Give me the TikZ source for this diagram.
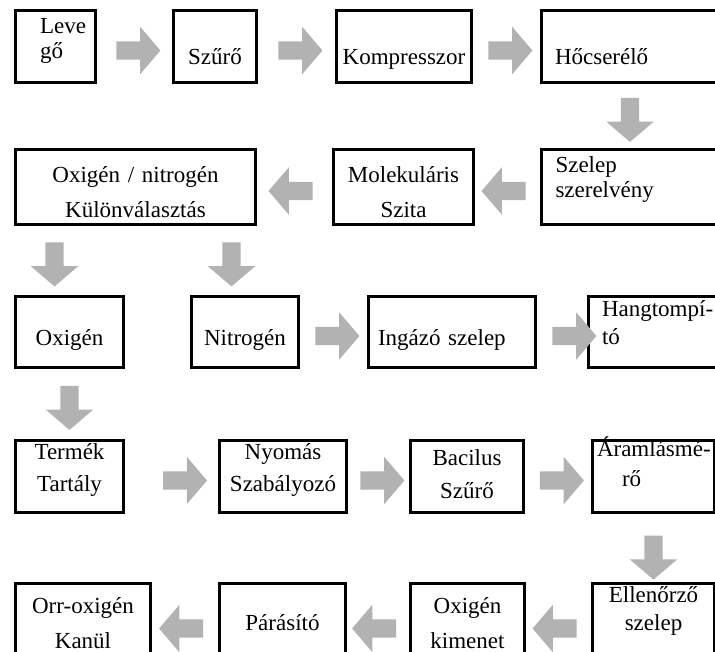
\documentclass[tikz,border=0pt]{standalone}
\usepackage{fontspec}
\setmainfont{Liberation Serif}
\usetikzlibrary{positioning}
\usetikzlibrary{shapes.arrows}

\begin{document}
\begin{tikzpicture}[x=1pt, y=-1pt, box/.style={draw, line width=2.8pt, inner sep=0pt, outer sep=0pt, align=center, font=\fontsize{23pt}{33pt}\selectfont}, lines/.style={font=\fontsize{23pt}{#1}\selectfont}, base/.style 2 args={text height=#1, text depth=#2}, flow/.style={single arrow, fill=gray!60, minimum height=44pt, inner sep=9pt, single arrow head extend=14.5pt, single arrow tip angle=99, single arrow head indent=0pt, outer sep=0pt}, rarr/.style={flow, yshift=-4pt}, larr/.style={flow, shape border rotate=180, yshift=-4pt}, darr/.style={flow, shape border rotate=270}]
	\useasboundingbox (0,0) rectangle (715,652);

	% nodes
	\node[box, minimum width=80pt, text width=31pt, align=left, base={23.5pt}{48.5pt}, lines=25pt] (lev) at (55.5,46.5) {Leve\\gő};
	\node[box, right=78pt of lev, text width=83pt, base={54.5pt}{17.5pt}] (szu) {Szűrő};
	\node[box, right=80pt of szu, text width=135pt, base={54.5pt}{17.5pt}] (kom) {Kompresszor};
	\node[box, right=70pt of kom, minimum width=177pt, text width=150pt, align=left, base={54.5pt}{17.5pt}] (hoc) {Hőcserélő};

	\node[box, below=67pt of hoc, minimum width=177pt, text width=149pt, align=left, base={23.5pt}{51.5pt}, lines=25pt] (sze) {Szelep\\szerelvény};
	\node[box, left=68pt of sze, text width=140pt, base={33.5pt}{41.5pt}, lines=35pt] (mol) {Molekuláris\\Szita};
	\node[box, left=78pt of mol, text width=240pt, base={33.5pt}{41.5pt}, lines=35pt] (oxn) {Oxigén / nitrogén\\Különválasztás};

	\node[box, below right=72pt and 0pt of oxn.south west, text width=108pt, base={48.5pt}{22.5pt}] (oxi) {Oxigén};
	\node[box, right=68pt of oxi, text width=107pt, base={48.5pt}{22.5pt}] (nit) {Nitrogén};
	\node[box, right=70pt of nit, minimum width=167pt, text width=148pt, align=left, base={48.5pt}{22.5pt}] (ing) {Ingázó szelep};
	\node[box, right=53pt of ing, minimum width=130pt, text width=103pt, align=left, base={20.5pt}{50.5pt}, lines=28pt] (han) {\mbox{Hangtompí-}\\tó};

	\node[box, below=73pt of oxi, text width=108pt, base={19pt}{53pt}, lines=32pt] (ter) {Termék\\Tartály};
	\node[box, right=96pt of ter, text width=127pt, base={19pt}{53pt}, lines=32pt] (nyo) {Nyomás\\Szabályozó};
	\node[box, right=64pt of nyo, text width=113pt, base={24.5pt}{47.5pt}, lines=33pt] (bac) {Bacilus\\Szűrő};
	\node[box, right=69pt of bac, minimum width=122pt, text width=113pt, align=left, base={15.5pt}{56.5pt}, lines=30pt] (ara) {\mbox{Áramlásmé-}\\\hspace*{25pt}rő};

	\node[box, below=71pt of ara, text width=122pt, base={18.5pt}{63.5pt}, lines=28pt] (ell) {Ellenőrző\\szelep};
	\node[box, left=68pt of ell, text width=114pt, base={29.5pt}{52.5pt}, lines=35pt] (oki) {Oxigén\\kimenet};
	\node[box, left=65pt of oki, text width=126pt, base={46.5pt}{35.5pt}] (par) {Párásító};
	\node[box, left=69pt of par, text width=135pt, base={29.5pt}{52.5pt}, lines=35pt] (orr) {Orr-oxigén\\Kanül};

	% arrows
	\path (lev) -- node[rarr] {} (szu);
	\path (szu) -- node[rarr] {} (kom);
	\path (kom) -- node[rarr] {} (hoc);
	\path (hoc) -- node[darr] {} (sze);
	\path (sze) -- node[larr] {} (mol);
	\path (mol) -- node[larr] {} (oxn);
	\path (oxn.south -| oxi.north) ++(-15pt,0pt) -- node[darr] {} ([xshift=-15pt]oxi.north);
	\path (oxn.south -| nit.north) ++(-13.5pt,0pt) -- node[darr] {} ([xshift=-13.5pt]nit.north);
	\path (nit) -- node[rarr] {} (ing);
	\path (ing) -- node[rarr, pos=0.66] {} (han);
	\path (oxi) -- node[darr] {} (ter);
	\path (ter) -- node[rarr, pos=0.6] {} (nyo);
	\path (nyo) -- node[rarr] {} (bac);
	\path (bac) -- node[rarr] {} (ara);
	\path (ara.south) -- node[darr, pos=0.58] {} (ell.north);
	\path (ell) -- node[larr] {} (oki);
	\path (oki) -- node[larr] {} (par);
	\path (par) -- node[larr] {} (orr);
\end{tikzpicture}
\end{document}
